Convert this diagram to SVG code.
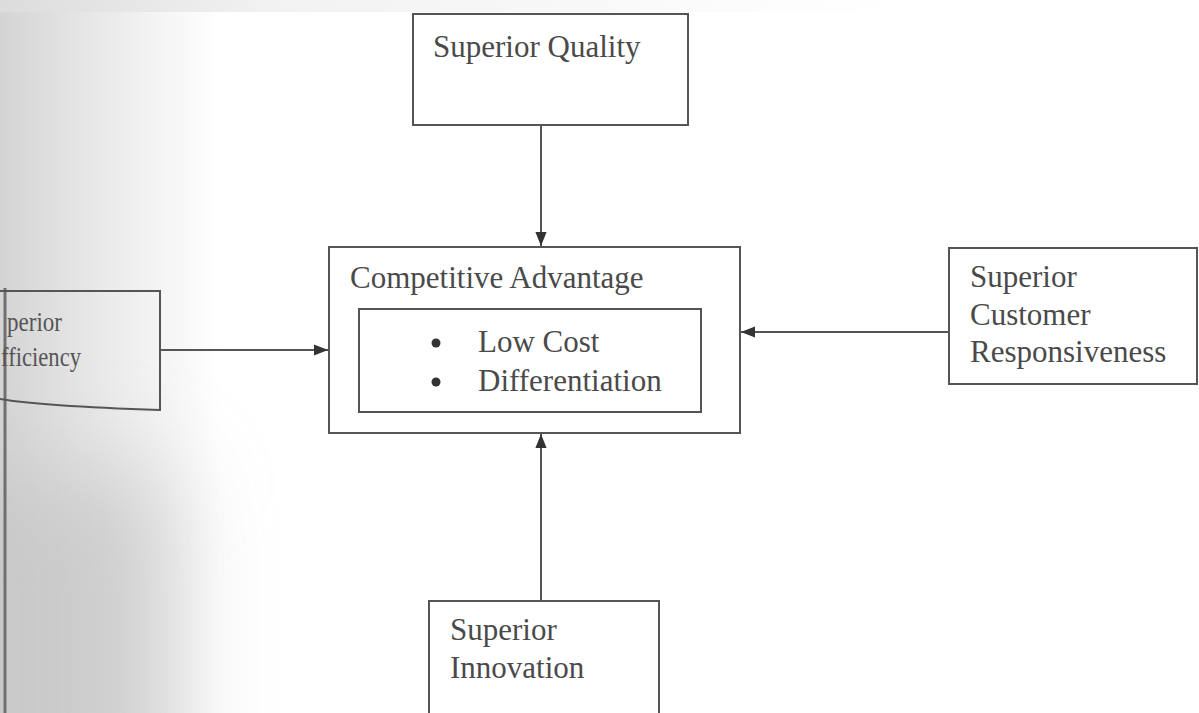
<svg xmlns="http://www.w3.org/2000/svg" width="1199" height="713" viewBox="0 0 1199 713">
<style>
.box{fill:none;stroke:#555;stroke-width:2}
.t{font-family:"Liberation Serif","Times New Roman",serif;font-size:31px;fill:#4a4a4a}
.c{stroke:#555;stroke-width:2;fill:none}
</style>
<defs>
<linearGradient id="shade" x1="0" y1="0" x2="1" y2="0">
<stop offset="0" stop-color="#d4d4d4"/>
<stop offset="0.45" stop-color="#e9e9e9"/>
<stop offset="1" stop-color="#ffffff"/>
</linearGradient>
<linearGradient id="topband" x1="0" y1="0" x2="1" y2="0">
<stop offset="0" stop-color="#dcdcdc"/>
<stop offset="0.3" stop-color="#f2f2f2"/>
<stop offset="1" stop-color="#ffffff"/>
</linearGradient>
<filter id="blur" x="-50%" y="-50%" width="200%" height="200%">
<feGaussianBlur stdDeviation="50"/>
</filter>
<marker id="ah" viewBox="0 0 10 10" refX="10" refY="5" markerWidth="14" markerHeight="14" orient="auto" markerUnits="userSpaceOnUse">
<path d="M0,1 L10,5 L0,9 z" fill="#333"/>
</marker>
</defs>
<rect width="1199" height="713" fill="#ffffff"/>
<rect x="0" y="0" width="220" height="713" fill="url(#shade)"/>
<rect x="-80" y="470" width="250" height="400" fill="#c6c6c6" filter="url(#blur)" opacity="0.8"/>
<rect x="0" y="0" width="900" height="12" fill="url(#topband)"/>
<line x1="5" y1="288" x2="5" y2="713" stroke="#707070" stroke-width="3"/>

<g id="connectors">
<line class="c" x1="541" y1="125" x2="541" y2="246" marker-end="url(#ah)"/>
<line class="c" x1="541" y1="601" x2="541" y2="434" marker-end="url(#ah)"/>
<line class="c" x1="160" y1="350" x2="328" y2="350" marker-end="url(#ah)"/>
<line class="c" x1="949" y1="332" x2="741" y2="332" marker-end="url(#ah)"/>
</g>

<g id="quality">
<rect class="box" x="413" y="14" width="275" height="111"/>
<text class="t" x="433" y="57">Superior Quality</text>
</g>

<g id="advantage">
<rect class="box" x="329" y="247" width="411" height="186"/>
<text class="t" x="350" y="288">Competitive Advantage</text>
<rect class="box" x="359" y="309" width="342" height="103"/>
<circle cx="436" cy="343" r="4.5" fill="#333"/>
<circle cx="436" cy="382" r="4.5" fill="#333"/>
<text class="t" x="478" y="352">Low Cost</text>
<text class="t" x="478" y="391">Differentiation</text>
</g>

<g id="responsiveness">
<rect class="box" x="949" y="248" width="248" height="136"/>
<text class="t" x="970" y="287">Superior</text>
<text class="t" x="970" y="325">Customer</text>
<text class="t" x="970" y="362">Responsiveness</text>
</g>

<g id="efficiency">
<path class="box" d="M0,291 L160,291 L160,410 Q40,406 0,399"/>
<text class="t" x="7" y="331" textLength="55" lengthAdjust="spacingAndGlyphs" style="font-size:27px;fill:#555">perior</text>
<text class="t" x="1" y="366" textLength="80" lengthAdjust="spacingAndGlyphs" style="font-size:27px;fill:#555">fficiency</text>
</g>

<g id="innovation">
<rect class="box" x="429" y="601" width="230" height="130"/>
<text class="t" x="450" y="640">Superior</text>
<text class="t" x="450" y="678">Innovation</text>
</g>
</svg>
